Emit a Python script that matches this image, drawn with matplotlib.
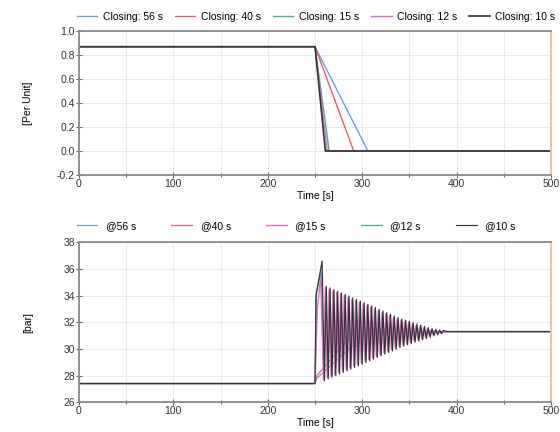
import matplotlib
matplotlib.use('Agg')
import matplotlib.pyplot as plt
from matplotlib.ticker import MultipleLocator, FormatStrFormatter

plt.rcParams['font.family'] = ['Liberation Sans', 'DejaVu Sans']
plt.rcParams['axes.unicode_minus'] = False

# valve position (per unit)
t_close_56 = [0, 250, 306, 500]
v_close_56 = [0.87, 0.87, 0.0, 0.0]
t_close_40 = [0, 250, 291, 500]
v_close_40 = [0.87, 0.87, 0.0, 0.0]
t_close_15 = [0, 250, 265, 500]
v_close_15 = [0.87, 0.87, 0.0, 0.0]
t_close_12 = [0, 250, 263, 500]
v_close_12 = [0.87, 0.87, 0.0, 0.0]
t_close_10 = [0, 250, 261, 500]
v_close_10 = [0.87, 0.87, 0.0, 0.0]

# pressure (bar)
t_p56 = [0, 250, 252, 306, 308, 310, 312, 314, 316, 318, 320, 322, 324, 326, 328, 330,
         332, 334, 336, 338, 342, 500]
p_p56 = [27.4, 27.4, 27.8, 31.3, 31.6, 31.05, 31.58, 31.08, 31.55, 31.11, 31.52, 31.14,
         31.49, 31.17, 31.46, 31.2, 31.43, 31.23, 31.4, 31.26, 31.3, 31.3]

t_p40 = [0, 250, 252, 291,
         293, 295, 297, 299, 301, 303, 305, 307, 309, 311, 313, 315, 317, 319, 321, 323,
         325, 327, 329, 331, 333, 335, 337, 339, 341, 343, 345, 347, 349, 351, 353, 355,
         357, 359, 362, 500]
p_p40 = [27.4, 27.4, 28.0, 31.2,
         31.85, 30.85, 31.82, 30.89, 31.78, 30.93, 31.75, 30.96, 31.71, 31.0, 31.68, 31.03,
         31.64, 31.07, 31.61, 31.1, 31.57, 31.13, 31.54, 31.16, 31.5, 31.18, 31.47, 31.2,
         31.44, 31.22, 31.41, 31.24, 31.38, 31.26, 31.36, 31.27, 31.34, 31.28, 31.3, 31.3]

t_p15 = [0, 250, 252.5, 256,
         259, 261, 263, 265, 267, 269, 271, 273, 275, 277, 279, 281, 283, 285, 287, 289,
         291, 293, 295, 297, 299, 301, 303, 305, 307, 309, 311, 313, 315, 317, 319, 321,
         323, 325, 327, 329, 331, 333, 335, 337, 339, 341, 343, 345, 347, 349, 351, 353,
         355, 357, 359, 361, 363, 365, 367, 369, 371, 373, 375, 377, 379, 381, 383, 385,
         389, 500]
p_p15 = [27.4, 27.4, 33.0, 35.4,
         27.70, 34.60, 27.85, 34.48, 27.97, 34.36, 28.09, 34.23, 28.22, 34.11, 28.34, 33.99,
         28.46, 33.87, 28.58, 33.74, 28.71, 33.62, 28.83, 33.50, 28.95, 33.37, 29.08, 33.25,
         29.20, 33.12, 29.33, 33.00, 29.45, 32.87, 29.58, 32.75, 29.70, 32.62, 29.83, 32.50,
         29.95, 32.37, 30.08, 32.25, 30.20, 32.15, 30.31, 32.06, 30.41, 31.97, 30.50, 31.87,
         30.60, 31.78, 30.69, 31.69, 30.79, 31.59, 30.88, 31.50, 30.98, 31.42, 31.08, 31.37,
         31.16, 31.34, 31.22, 31.32,
         31.3, 31.3]

t_p12 = [0, 250, 251.5, 256.5,
         259.5, 261.5, 263.5, 265.5, 267.5, 269.5, 271.5, 273.5, 275.5, 277.5, 279.5, 281.5,
         283.5, 285.5, 287.5, 289.5, 291.5, 293.5, 295.5, 297.5, 299.5, 301.5, 303.5, 305.5,
         307.5, 309.5, 311.5, 313.5, 315.5, 317.5, 319.5, 321.5, 323.5, 325.5, 327.5, 329.5,
         331.5, 333.5, 335.5, 337.5, 339.5, 341.5, 343.5, 345.5, 347.5, 349.5, 351.5, 353.5,
         355.5, 357.5, 359.5, 361.5, 363.5, 365.5, 367.5, 369.5, 371.5, 373.5, 375.5, 377.5,
         379.5, 381.5, 383.5, 385.5,
         389, 500]
p_p12 = [27.4, 27.4, 34.2, 35.8,
         27.80, 34.50, 27.95, 34.38, 28.07, 34.26, 28.19, 34.13, 28.32, 34.01, 28.44, 33.89,
         28.56, 33.77, 28.68, 33.64, 28.81, 33.52, 28.93, 33.40, 29.05, 33.27, 29.18, 33.15,
         29.30, 33.02, 29.43, 32.90, 29.55, 32.77, 29.68, 32.65, 29.80, 32.52, 29.93, 32.40,
         30.05, 32.27, 30.18, 32.15, 30.30, 32.05, 30.41, 31.96, 30.51, 31.87, 30.60, 31.77,
         30.70, 31.68, 30.79, 31.59, 30.89, 31.49, 30.98, 31.40, 31.08, 31.35, 31.15, 31.33,
         31.20, 31.32, 31.25, 31.30,
         31.3, 31.3]

t_p10 = [0, 250, 251, 257.5,
         260, 262, 264, 266, 268, 270, 272, 274, 276, 278, 280, 282, 284, 286, 288, 290,
         292, 294, 296, 298, 300, 302, 304, 306, 308, 310, 312, 314, 316, 318, 320, 322,
         324, 326, 328, 330, 332, 334, 336, 338, 340, 342, 344, 346, 348, 350, 352, 354,
         356, 358, 360, 362, 364, 366, 368, 370, 372, 374, 376, 378, 380, 382, 384, 386,
         390, 500]
p_p10 = [27.4, 27.4, 34.0, 36.6,
         27.60, 34.70, 27.75, 34.58, 27.87, 34.46, 27.99, 34.33, 28.12, 34.21, 28.24, 34.09,
         28.36, 33.97, 28.48, 33.84, 28.61, 33.72, 28.73, 33.60, 28.85, 33.47, 28.98, 33.35,
         29.10, 33.22, 29.23, 33.10, 29.35, 32.97, 29.48, 32.85, 29.60, 32.72, 29.73, 32.60,
         29.85, 32.47, 29.98, 32.35, 30.10, 32.25, 30.21, 32.16, 30.31, 32.07, 30.40, 31.97,
         30.50, 31.88, 30.59, 31.79, 30.69, 31.69, 30.78, 31.60, 30.88, 31.52, 30.98, 31.47,
         31.06, 31.42, 31.14, 31.38,
         31.3, 31.3]

c_blue = '#6e9fd8'
c_red = '#e2606e'
c_teal = '#4fa894'
c_pink = '#d870cc'
c_black = '#333333'

fig = plt.figure(figsize=(5.6, 4.32), dpi=100)
ax1 = fig.add_axes([0.141, 0.595, 0.843, 0.333])
ax2 = fig.add_axes([0.141, 0.069, 0.843, 0.370])

l1, = ax1.plot(t_close_56, v_close_56, color=c_blue, lw=1)
l2, = ax1.plot(t_close_40, v_close_40, color=c_red, lw=1)
l3, = ax1.plot(t_close_15, v_close_15, color=c_teal, lw=1)
l4, = ax1.plot(t_close_12, v_close_12, color=c_pink, lw=1)
l5, = ax1.plot(t_close_10, v_close_10, color=c_black, lw=1.2)

m1, = ax2.plot(t_p56, p_p56, color=c_blue, lw=0.9)
m2, = ax2.plot(t_p40, p_p40, color=c_red, lw=0.9)
m4, = ax2.plot(t_p12, p_p12, color=c_teal, lw=0.9)
m3, = ax2.plot(t_p15, p_p15, color=c_pink, lw=1.0)
m5, = ax2.plot(t_p10, p_p10, color=c_black, lw=0.85)

for ax in (ax1, ax2):
    ax.set_xlim(0, 500)
    ax.xaxis.set_major_locator(MultipleLocator(100))
    ax.xaxis.set_minor_locator(MultipleLocator(50))
    ax.grid(True, which='both', axis='x', color='#e8e8e8', lw=0.6)
    ax.grid(True, which='major', axis='y', color='#e8e8e8', lw=0.6)
    ax.set_axisbelow(True)
    ax.tick_params(which='both', direction='inout', length=4, width=0.8, color='#666666',
                   labelsize=7.5, labelcolor='#333333', pad=1)
    ax.tick_params(which='minor', length=3)
    for s in ('left', 'bottom', 'top'):
        ax.spines[s].set_color('#8a8a8a')
        ax.spines[s].set_linewidth(1.3)
    ax.spines['right'].set_color('#e6c48a')
    ax.spines['right'].set_linewidth(1.3)
    ax.set_xlabel('Time [s]', fontsize=7.5, labelpad=1)

ax1.set_ylim(-0.2, 1.0)
ax1.yaxis.set_major_locator(MultipleLocator(0.2))
ax1.yaxis.set_major_formatter(FormatStrFormatter('%.1f'))
ax1.set_ylabel('[Per Unit]', fontsize=7.5)
ax1.yaxis.set_label_coords(-0.097, 0.5)

ax2.set_ylim(26, 38)
ax2.yaxis.set_major_locator(MultipleLocator(2))
ax2.set_ylabel('[bar]', fontsize=7.5)
ax2.yaxis.set_label_coords(-0.097, 0.5)

fig.legend([l1, l2, l3, l4, l5],
           ['Closing: 56 s', 'Closing: 40 s', 'Closing: 15 s', 'Closing: 12 s', 'Closing: 10 s'],
           loc='center', bbox_to_anchor=(0.564, 0.961), ncol=5, frameon=False, fontsize=7.5,
           handlelength=2, handletextpad=0.5, columnspacing=1.15, borderpad=0)
fig.legend([m1, m2, m3, m4, m5],
           ['@56 s', '@40 s', '@15 s', '@12 s', '@10 s'],
           loc='center', bbox_to_anchor=(0.529, 0.477), ncol=5, frameon=False, fontsize=7.5,
           handlelength=2, handletextpad=0.8, columnspacing=3.4, borderpad=0)

fig.savefig('out.png', dpi=100)
